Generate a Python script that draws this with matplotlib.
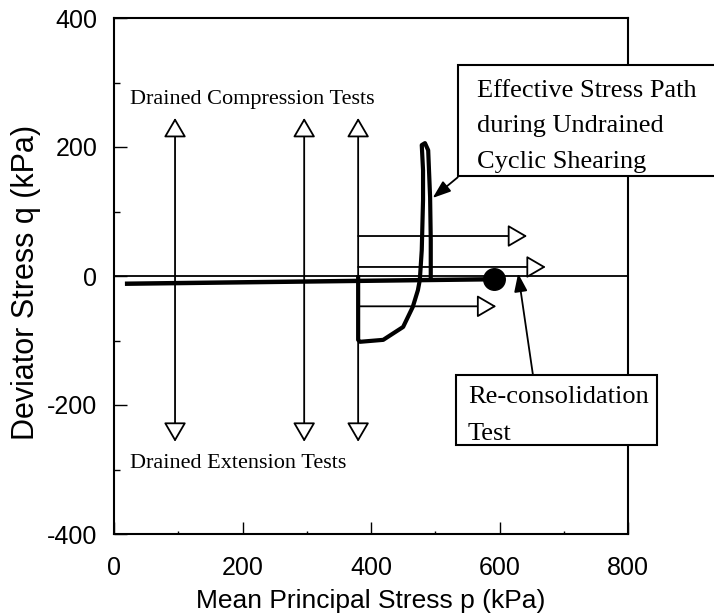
import matplotlib
matplotlib.use("Agg")
import matplotlib.pyplot as plt
from matplotlib.patches import Rectangle, FancyArrowPatch
from matplotlib.ticker import MultipleLocator

plt.rcParams['axes.unicode_minus'] = False

# ---------------- data ----------------
x_ticks = [0, 200, 400, 600, 800]
y_ticks = [-400, -200, 0, 200, 400]

# drained compression / extension test arrows (p positions, q extents)
drained_p = [95, 296, 380]
drained_q_top = 245
drained_q_bot = -257

# horizontal arrows starting at p = 380
horiz_p_start = 380
horiz_q = [62, 14, -47]
horiz_p_end = [643, 672, 595]

# thick consolidation line and end point
consol_p = [17, 590]
consol_q = [-12, -5]
point_p = [591]
point_q = [-4]

# effective stress path during undrained cyclic shearing
path_p = [380, 380, 383, 419, 450, 465, 473, 476, 479, 481, 481, 479, 484, 489, 492, 493, 493]
path_q = [-2, -99, -102, -99, -79, -48, -22, -6, 40, 118, 164, 203, 206, 195, 122, 56, -2]

# annotation arrows (tail -> tip)
esp_arrow = [(535, 153), (496, 121)]
rec_arrow = [(652, -153), (629, 4)]

SANS = ['Liberation Sans', 'DejaVu Sans']
SERIF = ['Liberation Serif', 'DejaVu Serif']

W, H = 714, 616
fig = plt.figure(figsize=(W / 100, H / 100), dpi=100)

def fx(px):
    return px / W

def fy(py):
    return 1 - py / H

ax = fig.add_axes([fx(114), fy(534), fx(628) - fx(114), fy(18) - fy(534)])
ax.set_xlim(0, 800)
ax.set_ylim(-400, 400)

for s in ax.spines.values():
    s.set_linewidth(1.5)

ax.set_xticks(x_ticks)
ax.set_yticks(y_ticks)
ax.set_xticklabels([str(v) for v in x_ticks], fontsize=18, family=SANS)
ax.set_yticklabels([str(v) for v in y_ticks], fontsize=18, family=SANS)
ax.xaxis.set_minor_locator(MultipleLocator(100))
ax.yaxis.set_minor_locator(MultipleLocator(100))
ax.tick_params(axis='both', which='major', direction='in', length=9, width=1)
ax.tick_params(axis='x', which='major', pad=16)
ax.tick_params(axis='y', which='major', pad=12)
ax.tick_params(axis='x', which='minor', direction='in', length=2.5, width=1)
ax.tick_params(axis='y', which='minor', direction='in', length=4.5, width=1)
ax.tick_params(top=False, right=False, which='both')

ax.set_xlabel('Mean Principal Stress p (kPa)', fontsize=19, family=SANS, labelpad=6)
fig.text(fx(26), fy(282), 'Deviator Stress q (kPa)', rotation=90, fontsize=22,
         family=SANS, ha='center', va='center')

# q = 0 reference line
ax.plot([0, 800], [0, 0], color='black', lw=1.3)

# vertical drained test arrows (open heads)
for p in drained_p:
    arr = FancyArrowPatch((p, drained_q_bot), (p, drained_q_top),
                          arrowstyle='<|-|>,head_length=12,head_width=7',
                          mutation_scale=1, lw=1.3, ec='black', fc='white',
                          shrinkA=0, shrinkB=0, zorder=3)
    ax.add_patch(arr)

# horizontal arrows (open heads)
for q, pe in zip(horiz_q, horiz_p_end):
    arr = FancyArrowPatch((horiz_p_start, q), (pe, q),
                          arrowstyle='-|>,head_length=12,head_width=7',
                          mutation_scale=1, lw=1.3, ec='black', fc='white',
                          shrinkA=0, shrinkB=0, zorder=3)
    ax.add_patch(arr)

# thick consolidation line and point
ax.plot(consol_p, consol_q, color='black', lw=3.2, solid_capstyle='butt', zorder=4)
ax.plot(point_p, point_q, 'o', color='black', markersize=15.5, zorder=5)

# effective stress path
ax.plot(path_p, path_q, color='black', lw=3.0, solid_joinstyle='round', zorder=4)

# annotation arrows (filled heads)
for (tail, tip) in [esp_arrow, rec_arrow]:
    arr = FancyArrowPatch(tail, tip,
                          arrowstyle='-|>,head_length=11,head_width=4',
                          mutation_scale=1, lw=1.3, ec='black', fc='black',
                          shrinkA=0, shrinkB=0, zorder=6, clip_on=False)
    ax.add_patch(arr)

# text labels
ax.text(25, 273, 'Drained Compression Tests', fontsize=16, family=SERIF,
        ha='left', va='center')
ax.text(25, -290, 'Drained Extension Tests', fontsize=16, family=SERIF,
        ha='left', va='center')

# boxes (figure level, drawn over the axes frame)
box1 = Rectangle((fx(458), fy(176)), fx(740) - fx(458), fy(65) - fy(176),
                 transform=fig.transFigure, fc='white', ec='black', lw=1.5, zorder=3)
box2 = Rectangle((fx(456), fy(445)), fx(657) - fx(456), fy(375) - fy(445),
                 transform=fig.transFigure, fc='white', ec='black', lw=1.5, zorder=3)
fig.add_artist(box1)
fig.add_artist(box2)

for txt, yb in [('Effective Stress Path', 97), ('during Undrained', 132),
                ('Cyclic Shearing', 168)]:
    fig.text(fx(477), fy(yb), txt, fontsize=19, family=SERIF, ha='left',
             va='baseline', zorder=4)
for txt, yb in [('Re-consolidation', 403), ('Test', 440)]:
    fig.text(fx(468), fy(yb), txt, fontsize=19, family=SERIF, ha='left',
             va='baseline', zorder=4)

fig.savefig('out.png', dpi=100)
